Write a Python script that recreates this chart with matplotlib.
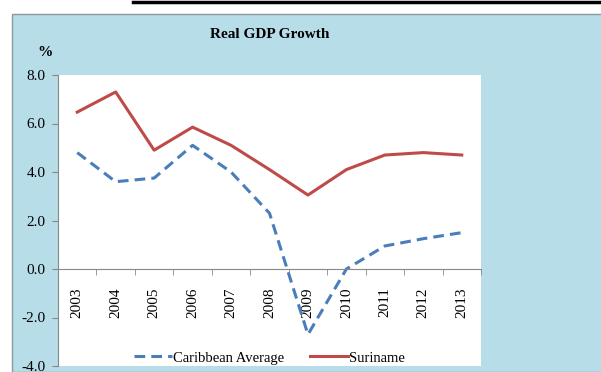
import numpy as np
import matplotlib
matplotlib.use("Agg")
from matplotlib import pyplot as plt
from matplotlib.patches import Rectangle
from matplotlib.lines import Line2D

# data
years = ['2003', '2004', '2005', '2006', '2007', '2008', '2009', '2010', '2011', '2012', '2013']
caribbean = [4.8, 3.6, 3.75, 5.1, 4.0, 2.3, -2.7, 0.0, 0.95, 1.25, 1.5]
suriname = [6.47, 7.3, 4.9, 5.85, 5.1, 4.1, 3.05, 4.1, 4.7, 4.8, 4.7]

plt.rcParams['font.family'] = ['Liberation Serif', 'DejaVu Serif']

fig = plt.figure(figsize=(6.01, 3.72), dpi=100)
fig.patch.set_facecolor('white')

# light blue chart box
W, H = 601.0, 372.0
fig.patches.append(Rectangle((12 / W, 0), 1, 1 - 14 / H, transform=fig.transFigure,
                             facecolor='#b7dde8', edgecolor='#8c9aa0', linewidth=1.0, zorder=-2))
# black rule at the top
fig.lines.append(Line2D([133 / W, 1], [1 - 1.5 / H, 1 - 1.5 / H], transform=fig.transFigure,
                        color='black', linewidth=2.5))

ax = fig.add_axes([58 / W, 1 - 366 / H, (481 - 58) / W, (366 - 75) / H])
ax.set_zorder(2)
ax.set_facecolor('white')

x = np.arange(len(years))
ax.plot(x, caribbean, color='#4a7ebb', linewidth=2.2, linestyle=(0, (3.5, 2)), label='Caribbean Average')
ax.plot(x, suriname, color='#be4b48', linewidth=2.2, label='Suriname')

ax.set_xlim(-0.5, len(years) - 0.5)
ax.set_ylim(-4, 8)
ax.set_yticks([-4, -2, 0, 2, 4, 6, 8])
ax.set_yticklabels(['%.1f' % v for v in [-4, -2, 0, 2, 4, 6, 8]], fontsize=11)
ax.tick_params(axis='y', direction='out', length=4, color='#888888', pad=5)

ax.spines['top'].set_visible(False)
ax.spines['right'].set_visible(False)
ax.spines['left'].set_color('#888888')
ax.spines['bottom'].set_position(('data', 0))
ax.spines['bottom'].set_color('#888888')

ax.set_xticks(x)
ax.set_xticklabels(years, rotation=90, fontsize=11)
ax.set_xticks(np.arange(len(years) + 1) - 0.5, minor=True)
ax.tick_params(axis='x', which='major', length=0, pad=13)
ax.tick_params(axis='x', which='minor', direction='out', length=4, color='#888888')

fig.text(270 / W, 1 - 35 / H, 'Real GDP Growth', ha='center', va='center',
         fontsize=11, fontweight='bold')
fig.text(45 / W, 1 - 52 / H, '%', ha='center', va='center', fontsize=11, fontweight='bold')

ax.legend(loc='lower center', bbox_to_anchor=(0.5, -0.04), ncol=2, frameon=False,
          fontsize=10.5, handlelength=2.6, columnspacing=1.8, handletextpad=0.05)

fig.savefig('out.png', dpi=100)
